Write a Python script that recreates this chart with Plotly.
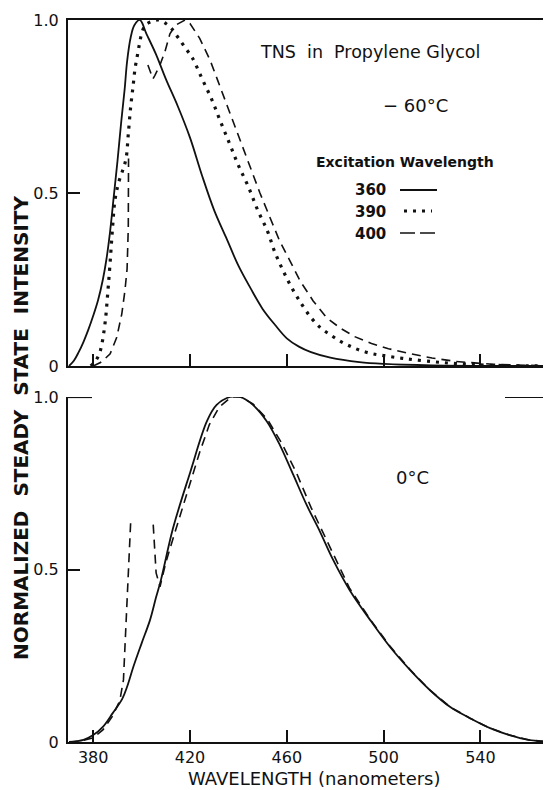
import plotly.graph_objects as go

# ---------------- data ----------------
# Top panel (-60 C), excitation 360 nm (solid)
top_360_wl = [370, 372, 374, 376, 378, 380, 382, 384, 385.5, 387, 388.5, 390, 391.5, 393, 394, 395.5,
              397, 399.3, 402, 406, 410, 415, 420, 425, 430, 435, 440, 445, 450, 455, 460, 465,
              470, 478, 490, 500, 520, 569]
top_360_i = [0.0, 0.015, 0.04, 0.07, 0.105, 0.145, 0.19, 0.25, 0.31, 0.39, 0.49, 0.59, 0.70, 0.80, 0.88, 0.95,
             0.985, 1.0, 0.96, 0.90, 0.83, 0.75, 0.66, 0.55, 0.45, 0.37, 0.29, 0.225, 0.165, 0.12, 0.08, 0.056,
             0.04, 0.024, 0.011, 0.006, 0.002, 0.0]

# excitation 390 nm (dotted)
top_390_wl = [379, 381, 382.5, 383.5, 385, 386, 387, 388, 389, 390.5, 392.4, 393.6, 394.5, 395.5,
              396.5, 397.3, 398.2, 399.1, 400, 401.5, 404, 407, 410, 412.4, 415, 418, 421, 425, 429,
              432.4, 436.5, 440, 444, 448, 452, 455, 458.5, 462, 466, 470, 474, 478, 482, 486, 490,
              495, 500, 508, 518, 530, 545, 569]
top_390_i = [0.0, 0.015, 0.035, 0.06, 0.13, 0.21, 0.30, 0.40, 0.48, 0.53, 0.57, 0.60, 0.67, 0.75,
             0.81, 0.86, 0.895, 0.93, 0.96, 0.985, 0.995, 1.0, 0.99, 0.975, 0.95, 0.92, 0.89, 0.83, 0.77,
             0.71, 0.64, 0.58, 0.52, 0.45, 0.39, 0.33, 0.275, 0.227, 0.18, 0.14, 0.11, 0.09, 0.072, 0.058, 0.046,
             0.036, 0.03, 0.022, 0.014, 0.007, 0.002, 0.0]

# excitation 400 nm (dashed) -- scatter spike, then gap, then emission band
top_400_wl = [380, 383, 385, 387, 389.7, 391.8, 393.1, 394, 394.5, 394.6, None,
              402.6, 404.7, 405.5, 407.6, 409.7, 411.7, 414, 418, 420, 424, 428.3, 432.4, 436.5,
              440.7, 444.8, 448.9, 453, 457, 461.3, 465.5, 470.9, 476.4, 482, 488, 495, 502, 510,
              520, 530, 545, 569]
top_400_i = [0.0, 0.01, 0.022, 0.035, 0.082, 0.15, 0.217, 0.28, 0.40, 0.60, None,
             0.87, 0.83, 0.84, 0.87, 0.91, 0.96, 0.985, 1.0, 0.99, 0.947, 0.884, 0.807, 0.73,
             0.652, 0.575, 0.50, 0.43, 0.362, 0.304, 0.246, 0.188, 0.14, 0.11, 0.085, 0.065, 0.05, 0.037,
             0.023, 0.013, 0.005, 0.0]

# Bottom panel (0 C), excitation 360 nm (solid)
bot_360_wl = [370, 376, 380, 384, 388, 392, 394, 396.6, 400, 403.5, 406, 408, 413, 420, 427, 431,
              436.5, 440.7, 446, 451.7, 457.2, 462.7, 468.2, 473.7, 479, 486, 494.4, 502.6, 510.9,
              519.2, 527.4, 535.7, 544, 552, 560, 569]
bot_360_i = [0.0, 0.006, 0.02, 0.044, 0.083, 0.125, 0.16, 0.218, 0.286, 0.354, 0.42, 0.47, 0.62, 0.78,
             0.93, 0.977, 1.0, 1.0, 0.977, 0.93, 0.86, 0.774, 0.687, 0.61, 0.53, 0.44, 0.354, 0.276, 0.209,
             0.15, 0.102, 0.069, 0.04, 0.02, 0.006, 0.0]

# excitation 400 nm (dashed)
bot_400_wl = [370, 375, 380, 384, 388, 391, 392.5, 395.5, None,
              404.8, 406, 407.6, 410, 413, 416, 420, 424, 428, 432, 437, 441, 446, 452, 458, 464,
              470, 476, 480, 486, 494.4, 502.6, 510.9, 519.2, 527.4, 535.7, 544, 552, 560, 569]
bot_400_i = [0.0, 0.003, 0.012, 0.035, 0.075, 0.12, 0.18, 0.64, None,
             0.63, 0.49, 0.45, 0.52, 0.59, 0.66, 0.75, 0.84, 0.92, 0.97, 1.0, 1.0, 0.98, 0.935, 0.865, 0.78,
             0.68, 0.59, 0.53, 0.445, 0.356, 0.278, 0.21, 0.15, 0.102, 0.069, 0.04, 0.02, 0.006, 0.0]

x_ticks = [380, 420, 460, 500, 540]
y_ticks = [0, 0.5, 1.0]
y_tick_text = ["0", "0.5", "1.0"]
legend_labels = ["360", "390", "400"]

# ---------------- layout helpers ----------------
# the page has an 8px body margin, so the figure is drawn 8px right/down;
# all target positions below are page pixels and are converted.
OFF = 8
PAGE_W, PAGE_H = 551, 790
W, H = PAGE_W - OFF, PAGE_H - OFF
L, R_EDGE, T, B = 68, 551, 20, 742          # page pixels of the plot frame
PW, PH = R_EDGE - L, B - T
X0_PX, PX_PER_NM = 69, 2.42                 # page pixel of 370 nm, scale


def px(x):
    return (x - L) / PW


def py(y):
    return (B - y) / PH


top_dom = [py(366), 1.0]
bot_dom = [0.0, py(397)]
XR = [370 + (L - X0_PX) / PX_PER_NM, 370 + (R_EDGE - X0_PX) / PX_PER_NM]

FONT = "DejaVu Sans"
BLACK = "#111111"

SOLID = dict(color=BLACK, width=1.8)
DOTTED = dict(color=BLACK, width=3.2, dash="3px,6px")
DASHED = dict(color=BLACK, width=1.6, dash="9px,6px")

fig = go.Figure()

fig.add_trace(go.Scatter(x=top_360_wl, y=top_360_i, mode="lines", line=SOLID, xaxis="x2", yaxis="y2",
                         cliponaxis=False, line_shape="spline", showlegend=False))
fig.add_trace(go.Scatter(x=top_390_wl, y=top_390_i, mode="lines", line=DOTTED, xaxis="x2", yaxis="y2",
                         cliponaxis=False, line_shape="spline", showlegend=False))
fig.add_trace(go.Scatter(x=top_400_wl, y=top_400_i, mode="lines", line=DASHED, xaxis="x2", yaxis="y2",
                         cliponaxis=False, connectgaps=False, showlegend=False))

fig.add_trace(go.Scatter(x=bot_360_wl, y=bot_360_i, mode="lines", line=SOLID, xaxis="x", yaxis="y",
                         cliponaxis=False, line_shape="spline", showlegend=False))
fig.add_trace(go.Scatter(x=bot_400_wl, y=bot_400_i, mode="lines", line=DASHED, xaxis="x", yaxis="y",
                         cliponaxis=False, connectgaps=False, showlegend=False))

axis_common = dict(showgrid=False, zeroline=False, showline=True, linecolor=BLACK, linewidth=2.2,
                   ticks="inside", tickcolor=BLACK, tickwidth=1.6, ticklen=12, automargin=False)

fig.update_layout(
    width=W, height=H,
    margin=dict(l=L - OFF, r=PAGE_W - R_EDGE, t=T - OFF, b=PAGE_H - B, autoexpand=False),
    paper_bgcolor="white", plot_bgcolor="white",
    font=dict(family=FONT, color=BLACK),
    xaxis=dict(domain=[0, 1], range=XR, anchor="y", tickvals=x_ticks,
               tickfont=dict(size=16, family=FONT), **axis_common),
    yaxis=dict(domain=bot_dom, range=[0, 1], anchor="x", tickvals=y_ticks, ticktext=y_tick_text,
               tickfont=dict(size=16, family=FONT), ticklabelstandoff=4, **axis_common),
    xaxis2=dict(domain=[0, 1], range=XR, anchor="y2", tickvals=x_ticks, showticklabels=False,
                mirror=True, **axis_common),
    yaxis2=dict(domain=top_dom, range=[0, 1], anchor="x2", tickvals=y_ticks, ticktext=y_tick_text,
                tickfont=dict(size=16, family=FONT), ticklabelstandoff=4, **axis_common),
)

# extra long stubs at 1.0 of the lower panel
fig.add_shape(type="line", xref="paper", yref="y", x0=0, x1=px(92), y0=1, y1=1,
              line=dict(color=BLACK, width=2.2))
fig.add_shape(type="line", xref="paper", yref="y", x0=px(505), x1=1, y0=1, y1=1,
              line=dict(color=BLACK, width=2.2))

ann = []
ann.append(dict(text="<b>NORMALIZED  STEADY  STATE  INTENSITY</b>", x=px(21), y=py(428), textangle=-90,
                font=dict(size=20, family=FONT)))
ann.append(dict(text="WAVELENGTH (nanometers)", x=px(314), y=py(778), font=dict(size=18, family=FONT)))
ann.append(dict(text="TNS  in  Propylene Glycol", x=px(370), y=py(52), font=dict(size=17.5, family=FONT)))
ann.append(dict(text="− 60°C", x=px(415), y=py(106), font=dict(size=18, family=FONT)))
ann.append(dict(text="<b>Excitation Wavelength</b>", x=px(405), y=py(162), font=dict(size=14, family=FONT)))
ann.append(dict(text="0°C", x=px(412), y=py(478), font=dict(size=18, family=FONT)))
for lab, yy in zip(legend_labels, [190, 212, 234]):
    ann.append(dict(text="<b>" + lab + "</b>", x=px(370), y=py(yy), font=dict(size=15, family=FONT)))

for a in ann:
    a.update(xref="paper", yref="paper", showarrow=False, xanchor="center", yanchor="middle")
fig.update_layout(annotations=ann)

# legend line samples
fig.add_shape(type="line", xref="paper", yref="paper", x0=px(400), x1=px(437), y0=py(190), y1=py(190),
              line=SOLID)
fig.add_shape(type="line", xref="paper", yref="paper", x0=px(404), x1=px(432), y0=py(211), y1=py(211),
              line=DOTTED)
fig.add_shape(type="line", xref="paper", yref="paper", x0=px(400), x1=px(437), y0=py(233), y1=py(233),
              line=dict(color=BLACK, width=1.6, dash="15px,5px"))

fig.write_html("out.html")
